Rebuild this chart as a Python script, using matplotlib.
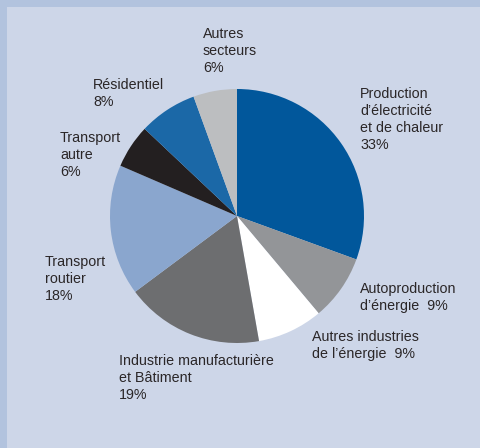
import matplotlib
matplotlib.use("Agg")
import matplotlib.pyplot as plt
from matplotlib.patches import Rectangle

plt.rcParams['font.family'] = ['Liberation Sans', 'DejaVu Sans']

# Répartition des émissions par secteur (%)
secteurs = ["Production\nd’électricité\net de chaleur",
            "Autoproduction\nd’énergie",
            "Autres industries\nde l’énergie",
            "Industrie manufacturière\net Bâtiment",
            "Transport\nroutier",
            "Transport\nautre",
            "Résidentiel",
            "Autres\nsecteurs"]
parts = [33, 9, 9, 19, 18, 6, 8, 6]
couleurs = ["#01579b", "#939598", "#ffffff", "#6d6e70",
            "#8aa6ce", "#231f20", "#1b68a7", "#bcbec0"]
# libellés écrits sur une ligne avec le pourcentage
sur_une_ligne = [False, True, True, False, False, False, False, False]
# coin haut-gauche de chaque libellé (pixels)
pos_libelles = [(360, 87), (360, 282), (312, 330), (119, 354),
                (45, 255), (60, 131), (93, 78), (203, 27)]

W, H = 480, 448
fig = plt.figure(figsize=(W / 100, H / 100), dpi=100)
fig.patch.set_facecolor("#b2c3de")
fig.patches.append(Rectangle((7 / W, 0), 1 - 7 / W, 1 - 7 / H,
                             transform=fig.transFigure,
                             facecolor="#cdd6e8", edgecolor="none", zorder=-5))

cx, cy, r = 237, 216, 127
ax = fig.add_axes([(cx - r) / W, 1 - (cy + r) / H, 2 * r / W, 2 * r / H])
ax.set_zorder(2)
ax.pie(parts, colors=couleurs, startangle=90, counterclock=False,
       wedgeprops=dict(linewidth=0))
ax.set_xlim(-1, 1)
ax.set_ylim(-1, 1)
ax.set_facecolor("none")
ax.axis("off")

for nom, val, seul, (x, y) in zip(secteurs, parts, sur_une_ligne, pos_libelles):
    if seul:
        txt = f"{nom}  {val}%"
    else:
        txt = f"{nom}\n{val}%"
    fig.text(x / W, 1 - y / H, txt, ha="left", va="top",
             fontsize=10.3, color="#2a2627", linespacing=1.28)

fig.savefig("out.png", dpi=100, facecolor=fig.get_facecolor())
